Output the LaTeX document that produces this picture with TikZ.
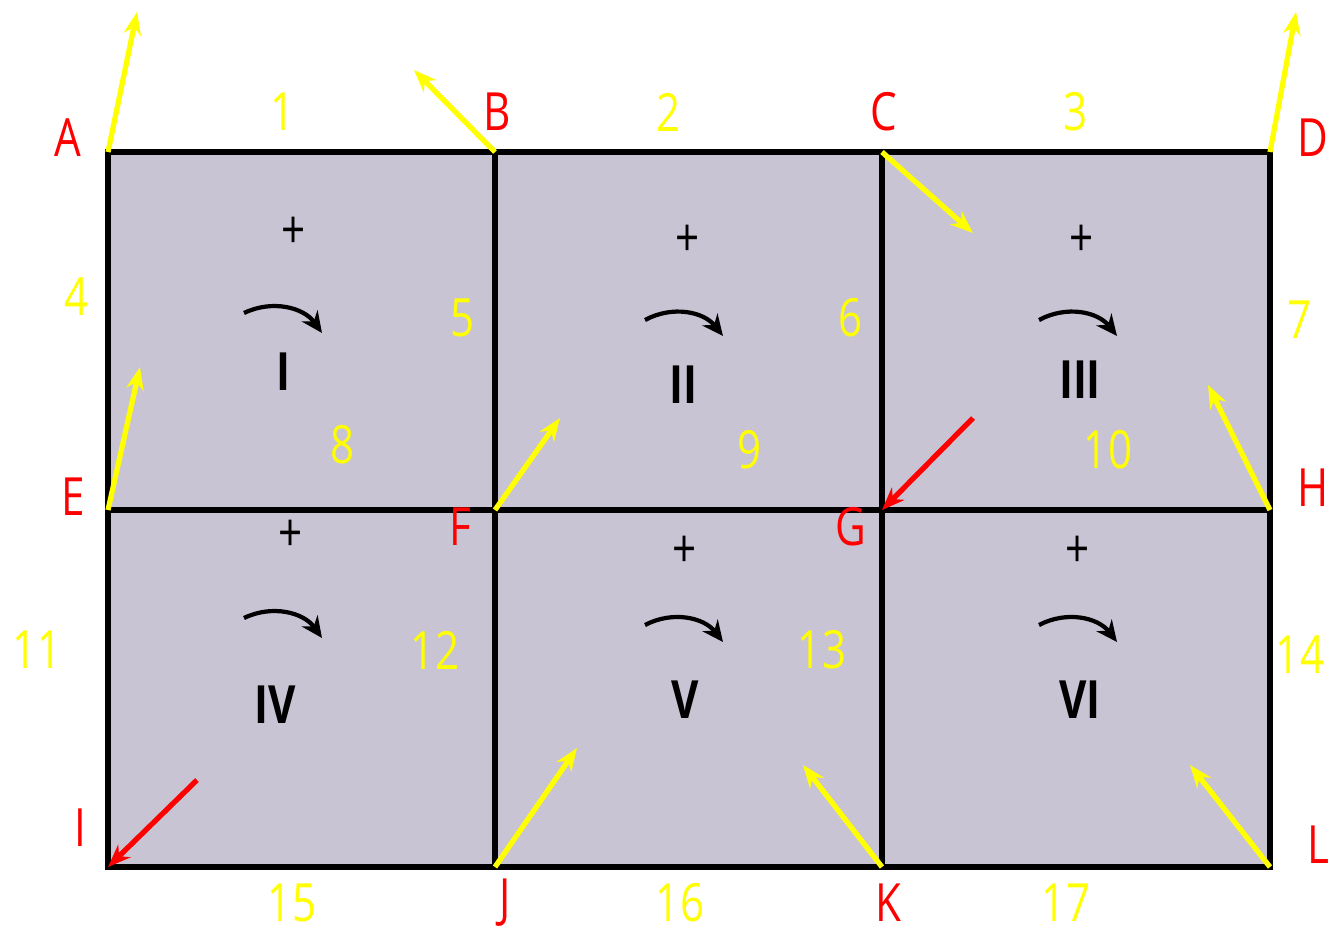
\documentclass[tikz,border=0pt]{standalone}
\usepackage{fontspec}
\setmainfont{Open Sans}[FakeStretch=0.8]
\usepackage{xcolor}
\usetikzlibrary{arrows.meta}
\definecolor{PanelGrey}{RGB}{201,196,211}
\definecolor{EdgeYellow}{RGB}{255,255,0}
\definecolor{JointRed}{RGB}{255,0,0}

\begin{document}
\begin{tikzpicture}[x=0.02cm, y=-0.02cm,
  every node/.style={inner sep=0pt, font=\fontsize{30}{30}\selectfont},
  jointlbl/.style={text=JointRed},
  edgelbl/.style={text=EdgeYellow},
  panellbl/.style={text=black, font=\fontsize{30}{30}\selectfont\bfseries},
  plusmark/.style={text=black, font=\fontsize{30}{30}\selectfont},
  frame/.style={line width=3.2pt, black},
  pushvec/.style={-{Stealth[length=13pt, width=10pt]}, line width=3pt, EdgeYellow},
  pullvec/.style={-{Stealth[length=13pt, width=10pt]}, line width=3pt, JointRed},
  turnvec/.style={-{Stealth[length=12pt, width=11pt]}, line width=2.4pt, black}]
\useasboundingbox (0,0) rectangle (1332,934);

% joints
\coordinate (A) at (108,152);
\coordinate (B) at (495,152);
\coordinate (C) at (882,152);
\coordinate (D) at (1270,152);
\coordinate (E) at (108,510);
\coordinate (F) at (495,510);
\coordinate (G) at (882,510);
\coordinate (H) at (1270,510);
\coordinate (I) at (108,867);
\coordinate (J) at (495,867);
\coordinate (K) at (882,867);
\coordinate (L) at (1270,867);

% panels
\fill[PanelGrey] (A) rectangle (L);
\draw[frame] (A) rectangle (L);
\draw[frame] (B) -- (J);
\draw[frame] (C) -- (K);
\draw[frame] (E) -- (H);

% joint labels
\node[jointlbl] (lA) at (68,138) {A};
\node[jointlbl] (lB) at (497,112) {B};
\node[jointlbl] (lC) at (884,112) {C};
\node[jointlbl] (lD) at (1313,138) {D};
\node[jointlbl] (lE) at (73,497) {E};
\node[jointlbl] (lF) at (460,527) {F};
\node[jointlbl] (lG) at (851,527) {G};
\node[jointlbl] (lH) at (1313,488) {H};
\node[jointlbl] (lI) at (80,828) {I};
\node[jointlbl] (lJ) at (505,903) {J};
\node[jointlbl] (lK) at (888,903) {K};
\node[jointlbl] (lL) at (1318,845) {L};

% edge numbers
\node[edgelbl] (e1) at (283,112) {1};
\node[edgelbl] (e2) at (669,112) {2};
\node[edgelbl] (e3) at (1076,112) {3};
\node[edgelbl] (e4) at (77,297) {4};
\node[edgelbl] (e5) at (463,318) {5};
\node[edgelbl] (e6) at (851,318) {6};
\node[edgelbl] (e7) at (1300,320) {7};
\node[edgelbl] (e8) at (343,445) {8};
\node[edgelbl] (e9) at (750,450) {9};
\node[edgelbl] (e10) at (1108,450) {10};
\node[edgelbl] (e11) at (37,650) {11};
\node[edgelbl] (e12) at (435,650) {12};
\node[edgelbl] (e13) at (822,650) {13};
\node[edgelbl] (e14) at (1300,655) {14};
\node[edgelbl] (e15) at (292,903) {15};
\node[edgelbl] (e16) at (680,903) {16};
\node[edgelbl] (e17) at (1066,903) {17};

% panel names and signs
\node[plusmark] (p1) at (294,233) {+};
\node[plusmark] (p2) at (688,241) {+};
\node[plusmark] (p3) at (1082,241) {+};
\node[plusmark] (p4) at (291,536) {+};
\node[plusmark] (p5) at (685,552) {+};
\node[plusmark] (p6) at (1078,552) {+};
\node[panellbl] (r1) at (283,372) {I};
\node[panellbl] (r2) at (683,385) {II};
\node[panellbl] (r3) at (1080,380) {III};
\node[panellbl] (r4) at (275,705) {IV};
\node[panellbl] (r5) at (685,700) {V};
\node[panellbl] (r6) at (1080,700) {VI};

% sense of circulation
\coordinate (t1a) at (244,313); \coordinate (t1b) at (322,333);
\coordinate (t2a) at (645,320); \coordinate (t2b) at (723,336);
\coordinate (t3a) at (1039,320); \coordinate (t3b) at (1117,336);
\coordinate (t4a) at (244,618); \coordinate (t4b) at (322,638);
\coordinate (t5a) at (645,625); \coordinate (t5b) at (723,642);
\coordinate (t6a) at (1039,625); \coordinate (t6b) at (1117,642);
\draw[turnvec] (t1a) to[bend left=40] (t1b);
\draw[turnvec] (t2a) to[bend left=40] (t2b);
\draw[turnvec] (t3a) to[bend left=40] (t3b);
\draw[turnvec] (t4a) to[bend left=40] (t4b);
\draw[turnvec] (t5a) to[bend left=40] (t5b);
\draw[turnvec] (t6a) to[bend left=40] (t6b);

% joint vectors
\coordinate (vA) at (137,12);
\coordinate (vB) at (414,70);
\coordinate (vC) at (973,233);
\coordinate (vD) at (1296,12);
\coordinate (vE) at (140,367);
\coordinate (vF) at (560,418);
\coordinate (vH) at (1208,385);
\coordinate (vJ) at (577,748);
\coordinate (vK) at (803,765);
\coordinate (vL) at (1190,765);
\coordinate (vG) at (973,418);
\coordinate (vI) at (197,780);
\draw[pushvec] (A) -- (vA);
\draw[pushvec] (B) -- (vB);
\draw[pushvec] (C) -- (vC);
\draw[pushvec] (D) -- (vD);
\draw[pushvec] (E) -- (vE);
\draw[pushvec] (F) -- (vF);
\draw[pushvec] (H) -- (vH);
\draw[pushvec] (J) -- (vJ);
\draw[pushvec] (K) -- (vK);
\draw[pushvec] (L) -- (vL);
\draw[pullvec] (vG) -- (G);
\draw[pullvec] (vI) -- (I);
\end{tikzpicture}
\end{document}
